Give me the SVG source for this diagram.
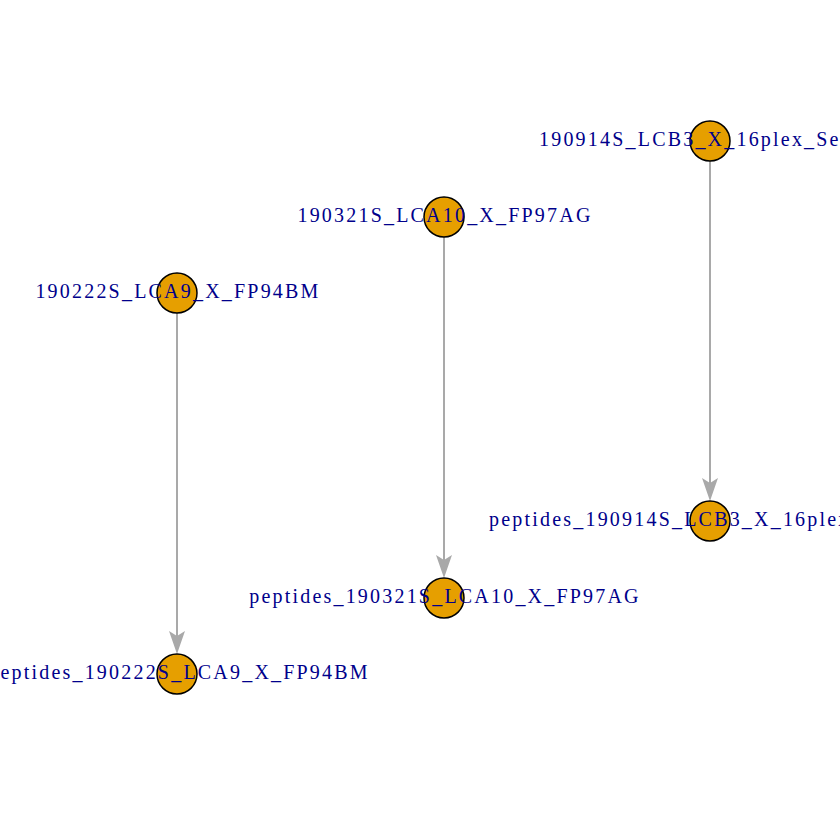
<svg xmlns="http://www.w3.org/2000/svg" width="840" height="840" viewBox="0 0 840 840">
<style>
.edge{stroke:#A9A9A9;stroke-width:2;fill:none}
.head{fill:#A9A9A9;stroke:none}
.node circle{fill:#E69F00;stroke:#000;stroke-width:1.5}
.node text{font-family:"Liberation Serif","DejaVu Serif",serif;font-size:20px;letter-spacing:2.2px;fill:#00008B;text-anchor:middle}
.node text.s{text-anchor:start}
</style>
<rect width="840" height="840" fill="#fff"/>
<g id="edges">
<line class="edge" x1="710" y1="161" x2="710" y2="485"/>
<path class="head" d="M702,478 L710,483 L718,478 L710,501 Z"/>
<line class="edge" x1="444" y1="237" x2="444" y2="562"/>
<path class="head" d="M436,555 L444,560 L452,555 L444,578 Z"/>
<line class="edge" x1="177" y1="313" x2="177" y2="638"/>
<path class="head" d="M169,631 L177,636 L185,631 L177,654 Z"/>
</g>
<g id="n1" class="node"><circle cx="710" cy="141" r="20"/><text class="s" x="539" y="146">190914S_LCB3_X_16plex_Set1</text></g>
<g id="n2" class="node"><circle cx="444" cy="217" r="20"/><text x="445" y="222">190321S_LCA10_X_FP97AG</text></g>
<g id="n3" class="node"><circle cx="177" cy="293" r="20"/><text x="178" y="298">190222S_LCA9_X_FP94BM</text></g>
<g id="n4" class="node"><circle cx="710" cy="521" r="20"/><text class="s" x="489" y="526">peptides_190914S_LCB3_X_16plex_Set1</text></g>
<g id="n5" class="node"><circle cx="444" cy="598" r="20"/><text x="445" y="603">peptides_190321S_LCA10_X_FP97AG</text></g>
<g id="n6" class="node"><circle cx="177" cy="674" r="20"/><text x="179" y="679">peptides_190222S_LCA9_X_FP94BM</text></g>
</svg>
